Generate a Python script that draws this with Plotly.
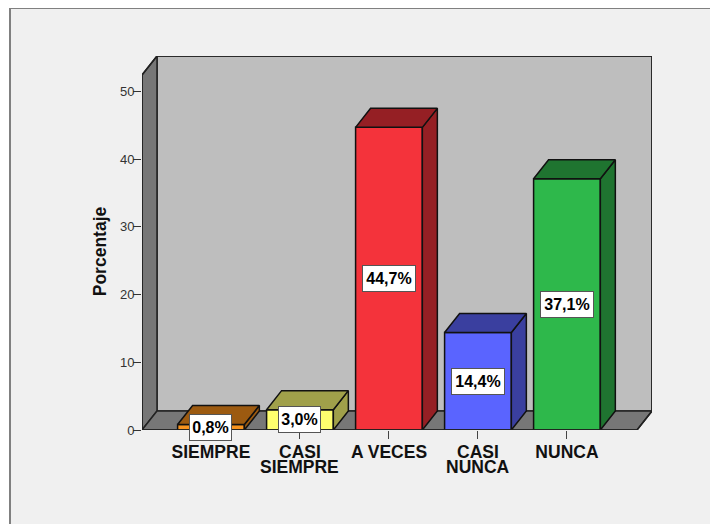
import plotly.graph_objects as go

categories = ['SIEMPRE', 'CASI', 'A VECES', 'CASI', 'NUNCA']
second_line = ['', 'SIEMPRE', '', 'NUNCA', '']
values = [0.8, 3.0, 44.7, 14.4, 37.1]
front_colors = ['#F7931E', '#FFFF6E', '#F4333B', '#5A64FF', '#2EB84B']
dark_colors = ['#9C5A10', '#A0A04A', '#951F24', '#3A3F9F', '#1F7430']
y_ticks = [0, 10, 20, 30, 40, 50]

# the page body has an 8px margin, so the figure starts at 8,8
OFFSET = 8
W, H = 718, 524
left, right, top, bottom = 142 - OFFSET, 652 - OFFSET, 56 - OFFSET, 430 - OFFSET

# 3d box settings, in axis units
bar_w = 0.75
dx = 0.1685
dy = 2.81
x0 = -0.775
x1 = 4.787
y_top = 55.24

xs = list(range(len(values)))
fig = go.Figure()

fig.add_trace(go.Bar(
    x=xs, y=values, width=bar_w,
    marker=dict(color=front_colors, line=dict(color='#111111', width=1.5)),
    hoverinfo='skip', showlegend=False
))

# side and top of each bar
for i, v in enumerate(values):
    a = i - bar_w / 2
    b = i + bar_w / 2
    fig.add_trace(go.Scatter(
        x=[b, b + dx, b + dx, b, b], y=[0, dy, v + dy, v, 0],
        mode='lines', fill='toself', fillcolor=dark_colors[i],
        line=dict(color='#111111', width=1.5), hoverinfo='skip', showlegend=False
    ))
    fig.add_trace(go.Scatter(
        x=[a, b, b + dx, a + dx, a], y=[v, v, v + dy, v + dy, v],
        mode='lines', fill='toself', fillcolor=dark_colors[i],
        line=dict(color='#111111', width=1.5), hoverinfo='skip', showlegend=False
    ))

# outer edge of the walls, not clipped
fig.add_trace(go.Scatter(
    x=[x0, x0, x0 + dx, x1 + dx, x1 + dx, x1, x0],
    y=[0, y_top - dy, y_top, y_top, dy, 0, 0],
    mode='lines', line=dict(color='#222222', width=1.5),
    cliponaxis=False, hoverinfo='skip', showlegend=False
))

shapes = [
    # grey panel behind the chart
    dict(type='rect', xref='paper', yref='paper', layer='below',
         x0=(2 - left) / (right - left), x1=(730 - left) / (right - left),
         y0=(bottom - 540) / (bottom - top), y1=(bottom - 0) / (bottom - top),
         fillcolor='#F0F0F0', line=dict(color='#808080', width=2)),
    # back wall
    dict(type='rect', layer='below', x0=x0 + dx, x1=x1 + dx, y0=dy, y1=y_top,
         fillcolor='#BEBEBE', line=dict(color='#222222', width=1.5)),
    # left wall
    dict(type='path', layer='below',
         path=f'M {x0} 0 L {x0 + dx} {dy} L {x0 + dx} {y_top} L {x0} {y_top - dy} Z',
         fillcolor='#777777', line=dict(color='#222222', width=1.5)),
    # floor
    dict(type='path', layer='below',
         path=f'M {x0} 0 L {x1} 0 L {x1 + dx} {dy} L {x0 + dx} {dy} Z',
         fillcolor='#777777', line=dict(color='#222222', width=1.5)),
]

annotations = []
for i, v in enumerate(values):
    label = f'{v:.1f}'.replace('.', ',') + '%'
    annotations.append(dict(
        x=i, y=v / 2, xref='x', yref='y', showarrow=False,
        text=f'<b>{label}</b>', width=11 * len(label) - 3, height=25,
        font=dict(family='Liberation Sans', size=16, color='#000000'),
        bgcolor='#FFFFFF', bordercolor='#555555', borderwidth=1, borderpad=0
    ))
for i, t in enumerate(second_line):
    if t:
        annotations.append(dict(
            x=i, y=0, xref='x', yref='y', showarrow=False, yanchor='middle',
            yshift=-37, text=f'<b>{t}</b>',
            font=dict(family='Liberation Sans', size=17.5, color='#111111')
        ))
annotations.append(dict(
    x=0, y=26.4, xref='paper', yref='y', xshift=-54, showarrow=False,
    textangle=-90, text='<b>Porcentaje</b>',
    font=dict(family='Liberation Sans', size=17.5, color='#111111')
))

fig.update_layout(
    width=W, height=H,
    margin=dict(l=left, r=W - right, t=top, b=H - bottom, pad=0),
    paper_bgcolor='#FFFFFF', plot_bgcolor='rgba(0,0,0,0)',
    shapes=shapes, annotations=annotations,
    xaxis=dict(
        range=[x0, x1 + dx], tickmode='array', tickvals=xs,
        ticktext=[f'<b>{c}</b>' for c in categories],
        tickfont=dict(family='Liberation Sans', size=17.5, color='#111111'),
        ticks='outside', ticklen=8, tickcolor='#444444', tickwidth=1,
        ticklabelstandoff=-2,
        showgrid=False, zeroline=False, showline=False
    ),
    yaxis=dict(
        range=[0, y_top], tickmode='array', tickvals=y_ticks,
        tickfont=dict(family='Liberation Sans', size=13, color='#333333'),
        ticks='outside', ticklen=8, tickcolor='#333333', tickwidth=1,
        ticklabelstandoff=-4,
        showgrid=False, zeroline=False, showline=False
    )
)

fig.write_html("out.html")
